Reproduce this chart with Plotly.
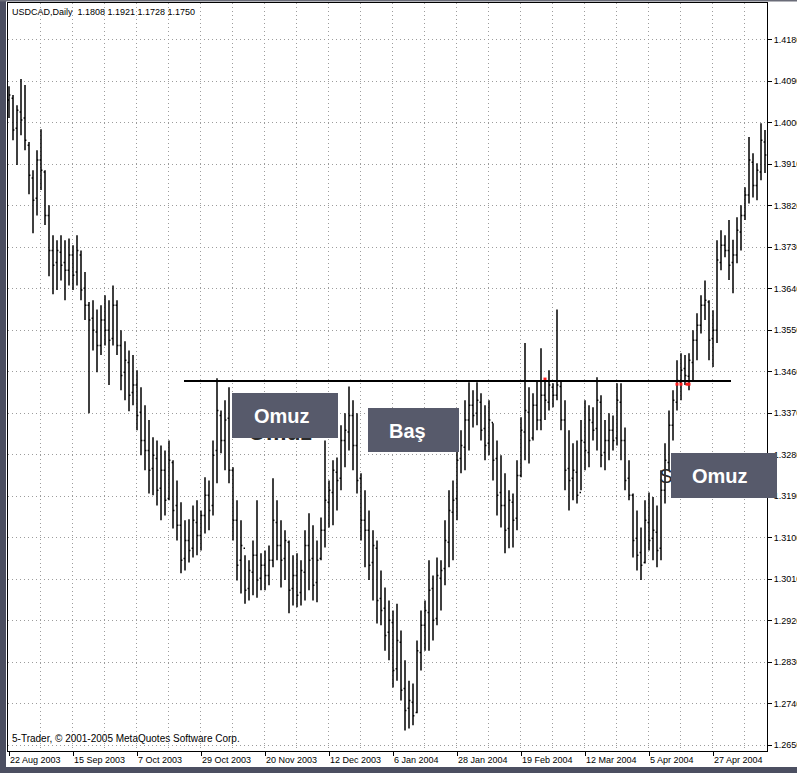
import plotly.graph_objects as go

# ---------------- data (USDCAD daily) ----------------
opens = [
    1.4049, 1.4053, 1.3988, 1.4023, 1.4010, 1.3951, 1.3880, 1.3836, 1.3919, 1.3893,
    1.3799, 1.3723, 1.3697, 1.3719, 1.3697, 1.3680, 1.3713, 1.3676, 1.3713, 1.3641,
    1.3604, 1.3576, 1.3546, 1.3517, 1.3572, 1.3550, 1.3532, 1.3604, 1.3517, 1.3459,
    1.3480, 1.3415, 1.3431, 1.3372, 1.3311, 1.3289, 1.3250, 1.3272, 1.3207, 1.3246,
    1.3185, 1.3263, 1.3170, 1.3127, 1.3055, 1.3094, 1.3077, 1.3133, 1.3105, 1.3148,
    1.3192, 1.3170, 1.3289, 1.3365, 1.3311, 1.3359, 1.3246, 1.3138, 1.3051, 1.3077,
    1.2990, 1.3025, 1.3062, 1.3012, 1.3040, 1.3018, 1.3051, 1.3133, 1.3083, 1.3055,
    1.3090, 1.2990, 1.3018, 1.2981, 1.3025, 1.3083, 1.3055, 1.3003, 1.3055, 1.3116,
    1.3177, 1.3198, 1.3242, 1.3229, 1.3311, 1.3329, 1.3365, 1.3300, 1.3229, 1.3138,
    1.3116, 1.3046, 1.3077, 1.2968, 1.2947, 1.2895, 1.2916, 1.2816, 1.2873, 1.2773,
    1.2730, 1.2743, 1.2721, 1.2851, 1.2910, 1.2938, 1.2990, 1.2925, 1.3012, 1.3033,
    1.3090, 1.3155, 1.3185, 1.3272, 1.3296, 1.3355, 1.3387, 1.3370, 1.3394, 1.3337,
    1.3305, 1.3350, 1.3272, 1.3198, 1.3170, 1.3120, 1.3177, 1.3142, 1.3235, 1.3329,
    1.3372, 1.3316, 1.3387, 1.3355, 1.3409, 1.3394, 1.3426, 1.3409, 1.3428, 1.3355,
    1.3250, 1.3229, 1.3242, 1.3198, 1.3307, 1.3285, 1.3350, 1.3337, 1.3394, 1.3285,
    1.3311, 1.3333, 1.3316, 1.3394, 1.3311, 1.3229, 1.3192, 1.3099, 1.3068, 1.3046,
    1.3133, 1.3099, 1.3112, 1.3077, 1.3203, 1.3263, 1.3344, 1.3394, 1.3437, 1.3467,
    1.3450, 1.3480, 1.3528, 1.3561, 1.3604, 1.3611, 1.3532, 1.3550, 1.3697, 1.3734,
    1.3723, 1.3697, 1.3713, 1.3763, 1.3799, 1.3843, 1.3914, 1.3864, 1.3893, 1.3958,
]
highs = [
    1.4079, 1.4060, 1.4038, 1.4095, 1.4082, 1.3958, 1.3897, 1.3940, 1.3986, 1.3897,
    1.3821, 1.3756, 1.3745, 1.3756, 1.3745, 1.3749, 1.3734, 1.3756, 1.3723, 1.3676,
    1.3611, 1.3615, 1.3595, 1.3604, 1.3626, 1.3615, 1.3647, 1.3615, 1.3550, 1.3526,
    1.3506, 1.3496, 1.3463, 1.3426, 1.3387, 1.3355, 1.3318, 1.3311, 1.3300, 1.3289,
    1.3311, 1.3268, 1.3224, 1.3177, 1.3138, 1.3140, 1.3170, 1.3181, 1.3159, 1.3231,
    1.3224, 1.3311, 1.3446, 1.3376, 1.3398, 1.3426, 1.3253, 1.3181, 1.3138, 1.3062,
    1.3051, 1.3094, 1.3181, 1.3066, 1.3072, 1.3083, 1.3229, 1.3181, 1.3138, 1.3116,
    1.3094, 1.3062, 1.3066, 1.3051, 1.3116, 1.3153, 1.3127, 1.3094, 1.3144, 1.3311,
    1.3224, 1.3268, 1.3274, 1.3344, 1.3370, 1.3428, 1.3398, 1.3370, 1.3240, 1.3203,
    1.3159, 1.3116, 1.3094, 1.3029, 1.2992, 1.2964, 1.2942, 1.2957, 1.2899, 1.2834,
    1.2790, 1.2784, 1.2877, 1.2942, 1.2964, 1.3051, 1.3018, 1.3057, 1.3051, 1.3138,
    1.3203, 1.3224, 1.3305, 1.3333, 1.3398, 1.3437, 1.3420, 1.3437, 1.3413, 1.3387,
    1.3398, 1.3348, 1.3311, 1.3279, 1.3240, 1.3203, 1.3196, 1.3268, 1.3361, 1.3522,
    1.3426, 1.3413, 1.3441, 1.3511, 1.3441, 1.3463, 1.3435, 1.3595, 1.3441, 1.3398,
    1.3333, 1.3305, 1.3311, 1.3355, 1.3398, 1.3387, 1.3383, 1.3448, 1.3409, 1.3355,
    1.3370, 1.3365, 1.3435, 1.3435, 1.3339, 1.3268, 1.3196, 1.3159, 1.3122, 1.3181,
    1.3198, 1.3188, 1.3170, 1.3246, 1.3305, 1.3376, 1.3420, 1.3485, 1.3500, 1.3496,
    1.3500, 1.3550, 1.3587, 1.3626, 1.3658, 1.3615, 1.3593, 1.3745, 1.3767, 1.3756,
    1.3789, 1.3746, 1.3795, 1.3821, 1.3860, 1.3969, 1.3934, 1.3912, 1.3999, 1.3984,
]
lows = [
    1.4010, 1.3962, 1.3908, 1.3973, 1.3940, 1.3845, 1.3760, 1.3799, 1.3854, 1.3778,
    1.3667, 1.3628, 1.3637, 1.3658, 1.3615, 1.3647, 1.3637, 1.3647, 1.3615, 1.3572,
    1.3370, 1.3506, 1.3459, 1.3496, 1.3517, 1.3431, 1.3517, 1.3496, 1.3420, 1.3398,
    1.3374, 1.3387, 1.3333, 1.3279, 1.3246, 1.3196, 1.3192, 1.3170, 1.3138, 1.3148,
    1.3181, 1.3120, 1.3094, 1.3023, 1.3029, 1.3046, 1.3057, 1.3062, 1.3072, 1.3109,
    1.3116, 1.3148, 1.3218, 1.3283, 1.3246, 1.3218, 1.3094, 1.3007, 1.2979, 1.2957,
    1.2964, 1.2975, 1.2970, 1.2986, 1.2986, 1.2997, 1.3036, 1.3051, 1.2992, 1.3008,
    1.2936, 1.2953, 1.2949, 1.2953, 1.2964, 1.2986, 1.2964, 1.2960, 1.3051, 1.3079,
    1.3122, 1.3127, 1.3159, 1.3203, 1.3253, 1.3289, 1.3246, 1.3196, 1.3094, 1.3036,
    1.3008, 1.2964, 1.2914, 1.2910, 1.2855, 1.2834, 1.2775, 1.2790, 1.2747, 1.2682,
    1.2686, 1.2693, 1.2719, 1.2812, 1.2855, 1.2855, 1.2877, 1.2910, 1.2942, 1.2997,
    1.3036, 1.3051, 1.3138, 1.3240, 1.3246, 1.3289, 1.3339, 1.3344, 1.3311, 1.3268,
    1.3279, 1.3224, 1.3148, 1.3122, 1.3066, 1.3077, 1.3079, 1.3116, 1.3231, 1.3268,
    1.3261, 1.3311, 1.3333, 1.3333, 1.3355, 1.3376, 1.3383, 1.3398, 1.3333, 1.3203,
    1.3159, 1.3181, 1.3174, 1.3203, 1.3246, 1.3253, 1.3311, 1.3289, 1.3253, 1.3246,
    1.3268, 1.3289, 1.3300, 1.3268, 1.3203, 1.3181, 1.3057, 1.3029, 1.3008, 1.3044,
    1.3072, 1.3051, 1.3036, 1.3051, 1.3174, 1.3246, 1.3311, 1.3376, 1.3398, 1.3431,
    1.3420, 1.3441, 1.3485, 1.3543, 1.3572, 1.3485, 1.3470, 1.3522, 1.3680, 1.3708,
    1.3659, 1.3630, 1.3695, 1.3723, 1.3789, 1.3825, 1.3838, 1.3832, 1.3875, 1.3891,
]
closes = [
    1.4060, 1.3984, 1.4027, 1.4006, 1.3962, 1.3886, 1.3832, 1.3919, 1.3897, 1.3799,
    1.3723, 1.3691, 1.3723, 1.3691, 1.3680, 1.3713, 1.3669, 1.3723, 1.3637, 1.3604,
    1.3572, 1.3550, 1.3517, 1.3572, 1.3550, 1.3528, 1.3604, 1.3517, 1.3452, 1.3485,
    1.3409, 1.3431, 1.3365, 1.3311, 1.3289, 1.3246, 1.3279, 1.3203, 1.3246, 1.3181,
    1.3268, 1.3159, 1.3127, 1.3051, 1.3094, 1.3072, 1.3138, 1.3105, 1.3148, 1.3192,
    1.3159, 1.3279, 1.3376, 1.3311, 1.3355, 1.3246, 1.3138, 1.3040, 1.3083, 1.2986,
    1.3029, 1.3062, 1.3008, 1.3040, 1.3018, 1.3051, 1.3138, 1.3083, 1.3051, 1.3094,
    1.2986, 1.3018, 1.2975, 1.3029, 1.3083, 1.3051, 1.2997, 1.3051, 1.3116, 1.3181,
    1.3203, 1.3246, 1.3224, 1.3311, 1.3333, 1.3365, 1.3300, 1.3224, 1.3138, 1.3116,
    1.3040, 1.3083, 1.2964, 1.2942, 1.2888, 1.2921, 1.2812, 1.2877, 1.2769, 1.2725,
    1.2747, 1.2714, 1.2855, 1.2910, 1.2942, 1.2986, 1.2921, 1.3018, 1.3029, 1.3094,
    1.3159, 1.3181, 1.3268, 1.3300, 1.3355, 1.3387, 1.3365, 1.3398, 1.3333, 1.3300,
    1.3355, 1.3268, 1.3192, 1.3170, 1.3116, 1.3181, 1.3138, 1.3235, 1.3333, 1.3376,
    1.3311, 1.3387, 1.3355, 1.3409, 1.3398, 1.3431, 1.3409, 1.3431, 1.3355, 1.3246,
    1.3224, 1.3246, 1.3192, 1.3311, 1.3289, 1.3355, 1.3333, 1.3398, 1.3279, 1.3311,
    1.3333, 1.3311, 1.3398, 1.3311, 1.3224, 1.3192, 1.3094, 1.3062, 1.3040, 1.3138,
    1.3094, 1.3116, 1.3072, 1.3203, 1.3268, 1.3344, 1.3398, 1.3441, 1.3463, 1.3452,
    1.3485, 1.3528, 1.3561, 1.3604, 1.3615, 1.3528, 1.3550, 1.3702, 1.3734, 1.3723,
    1.3691, 1.3713, 1.3767, 1.3799, 1.3843, 1.3919, 1.3864, 1.3897, 1.3962, 1.3930,
]

date_labels = ["22 Aug 2003", "15 Sep 2003", "7 Oct 2003", "29 Oct 2003",
               "20 Nov 2003", "12 Dec 2003", "6 Jan 2004", "28 Jan 2004",
               "19 Feb 2004", "12 Mar 2004", "5 Apr 2004", "27 Apr 2004"]
bars_per_label = 16

neckline_price = 1.3440
neckline_from_bar = 43.75
neckline_to_bar = 180.5

red_mark_bars = [134, 167, 168, 169.5, 170]
red_mark_prices = [1.3444, 1.3433, 1.3433, 1.3433, 1.3433]

# faint leftover label fragments partly hidden beneath the boxes
ghost_texts = ["<b>Omuz</b>", "S"]
ghost_bars = [67.75, 164.25]
ghost_prices = [1.3324, 1.3229]

header_text = "USDCAD,Daily  1.1808 1.1921 1.1728 1.1750"
footer_text = "5-Trader, \u00a9 2001-2005 MetaQuotes Software Corp."
pattern_labels = ["Omuz", "Baş", "Omuz"]

# ---------------- figure ----------------
n = min(len(opens), len(highs), len(lows), len(closes))
xs = list(range(n))

W, H = 797, 773
ML, MR, MT, MB = 8, 30, 3, 22
PW, PH = W - ML - MR, H - MT - MB


def px(x):
    return (x - ML) / PW


def py(y):
    return (H - MB - y) / PH


bar_line = dict(color="#000000", width=1.5)
fig = go.Figure()
fig.add_trace(go.Ohlc(
    x=xs, open=opens[:n], high=highs[:n], low=lows[:n], close=closes[:n],
    increasing=dict(line=bar_line), decreasing=dict(line=bar_line),
    tickwidth=0.35, showlegend=False, hoverinfo="skip",
))
fig.add_trace(go.Scatter(
    x=red_mark_bars, y=red_mark_prices, mode="markers",
    marker=dict(color="#ff1a1a", size=3, symbol="square", line=dict(width=0)),
    showlegend=False, hoverinfo="skip",
))
fig.add_trace(go.Scatter(
    x=ghost_bars, y=ghost_prices, mode="text", text=ghost_texts,
    textposition="middle center",
    textfont=dict(family="Arial, Liberation Sans, sans-serif", size=[23, 20],
                  color="#2a2a2a"),
    showlegend=False, hoverinfo="skip",
))

fig.add_shape(type="line", xref="x", yref="y",
              x0=neckline_from_bar, x1=neckline_to_bar,
              y0=neckline_price, y1=neckline_price,
              line=dict(color="#000000", width=2))

box_color = "#575a6b"
boxes = [(232, 338, 393, 438), (368, 459, 408, 452), (671, 777, 453, 498)]
for (x0, x1, y0, y1) in boxes:
    fig.add_shape(type="rect", xref="paper", yref="paper", layer="above",
                  x0=px(x0), x1=px(x1), y0=py(y1), y1=py(y0),
                  fillcolor=box_color, line=dict(width=0))

strip = "#4c4f61"
# window chrome: dark strips on the left, bottom and top
fig.add_shape(type="rect", xref="paper", yref="paper", layer="above",
              x0=px(0), x1=px(6), y0=py(H), y1=py(0),
              fillcolor=strip, line=dict(width=0))
fig.add_shape(type="rect", xref="paper", yref="paper", layer="above",
              x0=px(0), x1=px(W), y0=py(H), y1=py(767),
              fillcolor=strip, line=dict(width=0))
fig.add_shape(type="rect", xref="paper", yref="paper", layer="above",
              x0=px(0), x1=px(W), y0=py(1.5), y1=py(0),
              fillcolor="#6a6c78", line=dict(width=0))

small_font = dict(family="Liberation Sans, Arial, sans-serif", size=9, color="#000000")
label_font = dict(family="Arial, Liberation Sans, sans-serif", size=20, color="#ffffff")

label_centres = [(282, 416), (407, 431), (720, 476)]
annotations = [
    dict(text=header_text, x=px(10), y=py(12), xanchor="left", yanchor="middle",
         font=small_font),
    dict(text=footer_text, x=px(10), y=py(738), xanchor="left", yanchor="middle",
         font=dict(small_font, size=10)),
]
for lab, (cx, cy) in zip(pattern_labels, label_centres):
    annotations.append(dict(text="<b>" + lab + "</b>", x=px(cx), y=py(cy),
                            xanchor="center", yanchor="middle", font=label_font))
for a in annotations:
    a["xref"] = "paper"
    a["yref"] = "paper"
    a["showarrow"] = False

grid_color = "#9c9c9c"
grid_dash = "1px,3px"
fig.update_layout(
    width=W, height=H,
    margin=dict(l=ML, r=MR, t=MT, b=MB, autoexpand=False),
    paper_bgcolor="#ffffff", plot_bgcolor="#ffffff",
    showlegend=False,
    annotations=annotations,
    xaxis=dict(
        range=[-0.25, n - 0.5],
        tickmode="array",
        tickvals=[i * bars_per_label for i in range(len(date_labels))],
        ticktext=date_labels,
        ticks="outside", ticklen=4, tickcolor="#000000",
        ticklabelposition="outside right",
        tickfont=small_font,
        showgrid=False, zeroline=False,
        showline=True, linecolor="#000000", linewidth=1, mirror=True,
        rangeslider=dict(visible=False),
        minor=dict(tick0=-0.25, dtick=8, showgrid=True, gridcolor=grid_color,
                   griddash=grid_dash, gridwidth=1, ticks=""),
        fixedrange=True,
    ),
    yaxis=dict(
        side="right",
        range=[1.26374, 1.42596],
        tick0=1.265, dtick=0.009, tickformat=".4f",
        ticks="outside", ticklen=4, tickcolor="#000000",
        tickfont=small_font,
        showgrid=True, gridcolor=grid_color, griddash=grid_dash, gridwidth=1,
        zeroline=False,
        showline=True, linecolor="#000000", linewidth=1, mirror=True,
        fixedrange=True,
    ),
)

fig.write_html("out.html",
               config={"displayModeBar": False},
               post_script="document.body.style.margin='0';"
                           "document.body.style.overflow='hidden';")
